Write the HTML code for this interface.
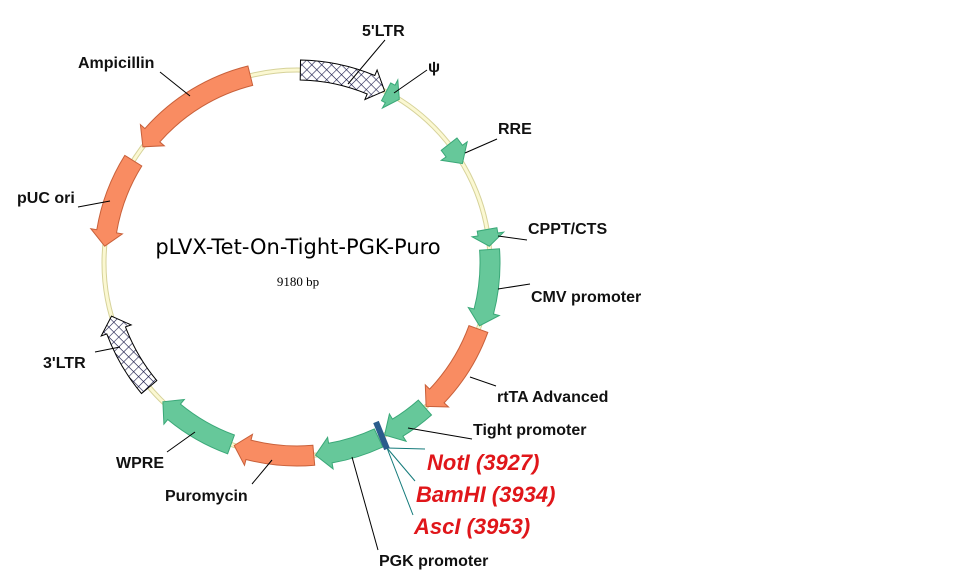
<!DOCTYPE html>
<html><head><meta charset="utf-8"><style>
body{margin:0;background:#fff;width:960px;height:582px;overflow:hidden}
svg{display:block}
.l{font-family:"Liberation Sans",Arial,sans-serif;font-size:16px;font-weight:bold;fill:#111}
.r{font-family:"Liberation Sans",Arial,sans-serif;font-size:22px;font-weight:bold;font-style:italic;fill:#e0161a}
</style></head><body>
<svg id="s" width="960" height="582" viewBox="0 0 960 582">
<defs>
<pattern id="hx" width="7" height="7" patternUnits="userSpaceOnUse" patternTransform="rotate(45)">
<rect width="7" height="7" fill="#fff"/>
<path d="M0 0H7M0 0V7" stroke="#1a1a4a" stroke-width="1.2"/>
</pattern>
</defs>
<circle cx="297" cy="263" r="193" fill="none" stroke="#d6d29a" stroke-width="5"/>
<circle cx="297" cy="263" r="193" fill="none" stroke="#fbf8d2" stroke-width="3"/>
<g id="arr"></g>
<g stroke="#000" stroke-width="1" fill="none">
<line x1="385" y1="40" x2="348" y2="84"/>
<line x1="427" y1="70" x2="394" y2="93"/>
<line x1="497" y1="139" x2="465" y2="153"/>
<line x1="527" y1="240" x2="498" y2="236"/>
<line x1="530" y1="284" x2="498" y2="289"/>
<line x1="496" y1="386" x2="470" y2="377"/>
<line x1="472" y1="439" x2="408" y2="428"/>
<line x1="378" y1="550" x2="352" y2="457"/>
<line x1="252" y1="484" x2="272" y2="460"/>
<line x1="167" y1="452" x2="195" y2="432"/>
<line x1="95" y1="352" x2="120" y2="347"/>
<line x1="78" y1="207" x2="110" y2="201"/>
<line x1="160" y1="72" x2="190" y2="96"/>
</g>
<g stroke="#137a7a" stroke-width="1" fill="none">
<line x1="387" y1="448" x2="425" y2="449"/>
<line x1="387" y1="448" x2="415" y2="481"/>
<line x1="387" y1="448" x2="413" y2="515"/>
</g>
<line x1="376" y1="422" x2="387" y2="449" stroke="#2a5c8c" stroke-width="6"/>
<text class="l" x="362" y="36">5'LTR</text>
<text class="l" x="428" y="72">ψ</text>
<text class="l" x="498" y="134">RRE</text>
<text class="l" x="528" y="234">CPPT/CTS</text>
<text class="l" x="531" y="302">CMV promoter</text>
<text class="l" x="497" y="402">rtTA Advanced</text>
<text class="l" x="473" y="435">Tight promoter</text>
<text class="l" x="379" y="566">PGK promoter</text>
<text class="l" x="165" y="501">Puromycin</text>
<text class="l" x="116" y="468">WPRE</text>
<text class="l" x="43" y="368">3'LTR</text>
<text class="l" x="17" y="203">pUC ori</text>
<text class="l" x="78" y="68">Ampicillin</text>
<text class="r" x="427" y="470">NotI (3927)</text>
<text class="r" x="416" y="502">BamHI (3934)</text>
<text class="r" x="414" y="534">AscI (3953)</text>
<text x="298" y="254" text-anchor="middle" style="font-family:'DejaVu Sans',sans-serif;font-size:21px">pLVX-Tet-On-Tight-PGK-Puro</text>
<text x="298" y="286" text-anchor="middle" style="font-family:'Liberation Serif',serif;font-size:13px">9180 bp</text>
</svg>
<script>
var cx=297,cy=263,R=193;
function P(a,r){var t=a*Math.PI/180;return [(cx+r*Math.sin(t)).toFixed(1),(cy-r*Math.cos(t)).toFixed(1)];}
function arc(a1,a2,r){var s=a2>a1?1:0,l=Math.abs(a2-a1)>180?1:0,p=P(a2,r);return "A"+r+" "+r+" 0 "+l+" "+s+" "+p[0]+" "+p[1];}
function arrow(a1,a2,fill,stroke){
 var w=10,hw=16,dir=a2>a1?1:-1,len=Math.abs(a2-a1);
 var h=Math.min(15/R*180/Math.PI,len*0.7);
 var b=a2-dir*h;
 var p0=P(a1,R+w),p1=P(b,R+hw),p2=P(a2,R),p3=P(b,R-hw),p4=P(b,R-w),p5=P(a1,R-w);
 var d="M"+p0.join(" ")+" "+arc(a1,b,R+w)+" L"+p1.join(" ")+" L"+p2.join(" ")+" L"+p3.join(" ")+" L"+p4.join(" ")+" "+arc(b,a1,R-w)+" Z";
 return '<path d="'+d+'" fill="'+fill+'" stroke="'+stroke+'" stroke-width="1"/>';
}
var G="#66c89a",GS="#3aa878",O="#f98c62",OS="#c8603a",H="url(#hx)",HS="#000";
var f=[[1,27,H,HS],[27.5,32,G,GS],[52,59,G,GS],[80,85,G,GS],[86,109,G,GS],[110,138,O,OS],[138.5,153,G,GS],[155,174.5,G,GS],[175,199,O,OS],[200,224,G,GS],[230,254,H,HS],[302,275,O,OS],[346,307,O,OS]];
var h="";f.forEach(function(x){h+=arrow(x[0],x[1],x[2],x[3]);});
document.getElementById("arr").innerHTML=h;
</script>
</body></html>
